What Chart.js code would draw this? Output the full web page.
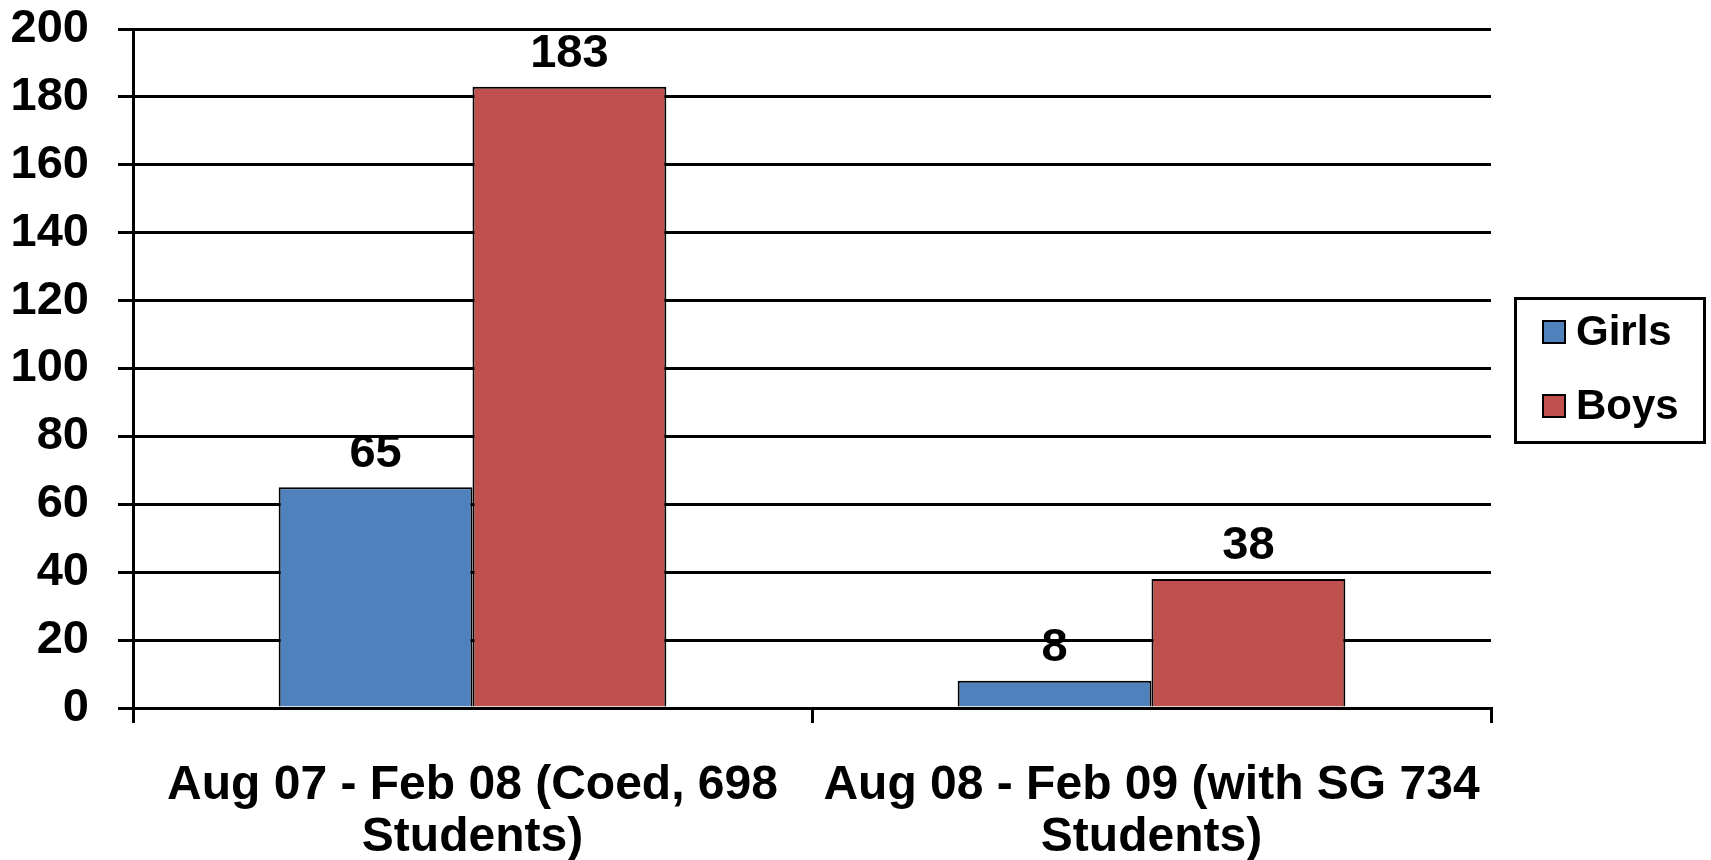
<!DOCTYPE html>
<html>
<head>
<meta charset="utf-8">
<script src="https://cdn.jsdelivr.net/npm/chart.js@4/dist/chart.umd.min.js"></script>
<style>
  html, body { margin: 0; padding: 0; background: #fff; }
  #wrap { width: 1711px; height: 860px; }
</style>
</head>
<body>
<div id="wrap"><canvas id="c" width="1711" height="860"></canvas></div>
<script>
const categories = [
  ["Aug 07 - Feb 08 (Coed, 698", "Students)"],
  ["Aug 08 - Feb 09 (with SG 734", "Students)"]
];
const seriesNames = ["Girls", "Boys"];
const girls = [65, 8];
const boys = [183, 38];
const colors = ["#4F81BD", "#C0504D"];
const yTicks = { min: 0, max: 200, step: 20 };

const FONT = "'Liberation Sans', Arial, sans-serif";

const valueLabels = {
  id: 'valueLabels',
  afterDatasetsDraw(chart) {
    const ctx = chart.ctx;
    ctx.save();
    ctx.font = "bold 47px " + FONT;
    ctx.fillStyle = "#000";
    ctx.textAlign = "center";
    ctx.textBaseline = "alphabetic";
    chart.data.datasets.forEach((ds, i) => {
      const meta = chart.getDatasetMeta(i);
      meta.data.forEach((bar, j) => {
        ctx.fillText(String(ds.data[j]), bar.x, bar.y - 20);
      });
    });
    ctx.restore();
  }
};

const boxedLegend = {
  id: 'boxedLegend',
  afterDraw(chart) {
    const ctx = chart.ctx;
    ctx.save();
    ctx.lineWidth = 3;
    ctx.strokeStyle = "#000";
    ctx.strokeRect(1515.5, 298.5, 189, 144);
    const rows = [332, 406];
    chart.data.datasets.forEach((ds, i) => {
      const cy = rows[i];
      ctx.fillStyle = ds.backgroundColor;
      ctx.fillRect(1543, cy - 11, 22, 22);
      ctx.lineWidth = 2;
      ctx.strokeRect(1543, cy - 11, 22, 22);
      ctx.fillStyle = "#000";
      ctx.font = "bold 42px " + FONT;
      ctx.textAlign = "left";
      ctx.textBaseline = "middle";
      ctx.fillText(ds.label, 1576, cy + 1);
    });
    ctx.restore();
  }
};

new Chart(document.getElementById('c'), {
  type: 'bar',
  data: {
    labels: categories,
    datasets: [
      { label: seriesNames[0], data: girls, backgroundColor: colors[0], borderColor: "#000", borderWidth: 2 },
      { label: seriesNames[1], data: boys, backgroundColor: colors[1], borderColor: "#000", borderWidth: 2 }
    ]
  },
  options: {
    responsive: false,
    animation: false,
    devicePixelRatio: 1,
    layout: { padding: { left: 11, right: 220, top: 29, bottom: 0 } },
    plugins: {
      legend: { display: false },
      tooltip: { enabled: false }
    },
    datasets: {
      bar: { barPercentage: 1.0, categoryPercentage: 0.571 }
    },
    scales: {
      x: {
        offset: true,
        grid: {
          display: true,
          offset: true,
          drawOnChartArea: false,
          drawTicks: true,
          tickLength: 15,
          color: "#000",
          lineWidth: 3
        },
        border: { display: true, color: "#000", width: 3 },
        ticks: {
          color: "#000",
          font: { family: FONT, size: 48, weight: 'bold', lineHeight: 1.1 },
          maxRotation: 0,
          autoSkip: false,
          padding: 36
        },
        afterFit(scale) { scale.height = 152; }
      },
      y: {
        min: yTicks.min,
        max: yTicks.max,
        grid: {
          color: "#000",
          lineWidth: 3,
          drawTicks: true,
          tickLength: 15
        },
        border: { display: true, color: "#000", width: 3 },
        ticks: {
          stepSize: yTicks.step,
          color: "#000",
          font: { family: FONT, size: 47, weight: 'bold' },
          padding: 29
        },
        afterFit(scale) {
          scale.width = 122;
          scale.paddingTop = 0;
          scale.paddingBottom = 0;
        }
      }
    }
  },
  plugins: [valueLabels, boxedLegend]
});
</script>
</body>
</html>
